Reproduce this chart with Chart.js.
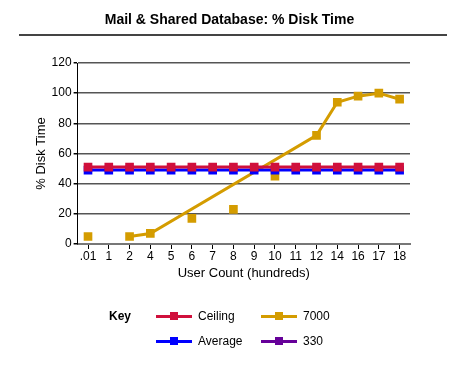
<!DOCTYPE html>
<html>
<head>
<meta charset="utf-8">
<script src="https://cdn.jsdelivr.net/npm/chart.js@4"></script>
<style>
  body { margin: 0; background: #fff; font-family: "Liberation Sans", Arial, sans-serif; }
  #wrap { position: relative; width: 459px; height: 377px; }
  #title { position: absolute; left: 0; top: 11px; width: 459px; text-align: center; font-weight: bold; font-size: 14px; color: #000; }
  #rule { position: absolute; left: 19px; top: 34px; width: 428px; height: 2px; background: #444; }
  #chartBox { position: absolute; left: 0; top: 0; width: 459px; height: 300px; }
  #legend { position: absolute; left: 0; top: 0; width: 459px; height: 377px; pointer-events: none; font-size: 12px; color: #000; }
  .key { position: absolute; font-weight: bold; }
  .item { position: absolute; height: 14px; }
  .sw { position: absolute; left: 0; top: 6px; width: 36px; height: 3px; }
  .mk { position: absolute; left: 14px; top: -3px; width: 8px; height: 8px; }
  .lbl { position: absolute; left: 42px; top: 0; white-space: nowrap; }
</style>
</head>
<body>
<div id="wrap">
  <div id="chartBox"><canvas id="diskChart"></canvas></div>
  <div id="title">Mail &amp; Shared Database: % Disk Time</div>
  <div id="rule"></div>
  <div id="legend"></div>
</div>
<script>
// categories (hundreds of users)
const categories = [".01", "1", "2", "4", "5", "6", "7", "8", "9", "10", "11", "12", "14", "16", "17", "18"];

const ceiling = [51, 51, 51, 51, 51, 51, 51, 51, 51, 51, 51, 51, 51, 51, 51, 51];
const average = [49, 49, 49, 49, 49, 49, 49, 49, 49, 49, 49, 49, 49, 49, 49, 49];
// 7000: points joined by the line
const line7000 = [null, null, 5, 7, null, null, null, null, null, null, null, 72, 94, 98, 100, 96];
// 7000: loose points off the line
const points7000 = [5, null, null, null, null, 17, null, 23, null, 45, null, null, null, null, null, null];
// 330: nothing plotted
const series330 = [];

const yTicks = [0, 20, 40, 60, 80, 100, 120];

const colors = {
  Ceiling: "#d0103c",
  Average: "#0000ff",
  "7000": "#d49c00",
  "330": "#660099"
};

Chart.defaults.font.family = '"Liberation Sans", Arial, sans-serif';
Chart.defaults.font.size = 12;
Chart.defaults.color = "#000";

function lineSet(label, data, color, extra) {
  return Object.assign({
    label: label,
    data: data,
    borderColor: color,
    backgroundColor: color,
    borderWidth: 3,
    pointStyle: "rect",
    pointRadius: 4,
    pointHoverRadius: 4,
    tension: 0
  }, extra || {});
}

new Chart(document.getElementById("diskChart"), {
  type: "line",
  data: {
    labels: categories,
    datasets: [
      lineSet("Ceiling", ceiling, colors.Ceiling),
      lineSet("Average", average, colors.Average),
      lineSet("7000", line7000, colors["7000"], { spanGaps: true }),
      lineSet("7000 pts", points7000, colors["7000"], { showLine: false }),
      lineSet("330", series330, colors["330"])
    ]
  },
  options: {
    responsive: true,
    maintainAspectRatio: false,
    animation: false,
    layout: { padding: { top: 63, left: 34, right: 49, bottom: 19 } },
    plugins: {
      legend: { display: false },
      title: { display: false },
      tooltip: { enabled: false }
    },
    scales: {
      x: {
        offset: true,
        grid: { drawOnChartArea: false, tickLength: 5, color: "#000", lineWidth: 1 },
        border: { color: "#777", width: 2 },
        ticks: { padding: 0, autoSkip: false, maxRotation: 0 },
        title: { display: true, text: "User Count (hundreds)", font: { size: 13 }, padding: { top: 2, bottom: 0 } }
      },
      y: {
        min: 0,
        max: 120,
        afterBuildTicks: axis => { axis.ticks = yTicks.map(v => ({ value: v })); },
        grid: { color: "#555", lineWidth: 1.5, tickLength: 4, tickColor: "#000" },
        border: { color: "#000", width: 1 },
        ticks: { padding: 2 },
        title: { display: true, text: "% Disk Time", font: { size: 13 }, padding: { top: 0, bottom: 0 } }
      }
    }
  }
});

// HTML legend, "Key" then two columns
const legendItems = [
  { label: "Ceiling", x: 156, y: 309 },
  { label: "7000", x: 261, y: 309 },
  { label: "Average", x: 156, y: 334 },
  { label: "330", x: 261, y: 334 }
];
const legend = document.getElementById("legend");
const key = document.createElement("div");
key.className = "key";
key.textContent = "Key";
key.style.left = "109px";
key.style.top = "309px";
legend.appendChild(key);
legendItems.forEach(it => {
  const d = document.createElement("div");
  d.className = "item";
  d.style.left = it.x + "px";
  d.style.top = it.y + "px";
  const c = colors[it.label];
  d.innerHTML = '<div class="sw" style="background:' + c + '"><div class="mk" style="background:' + c + '"></div></div>' +
    '<div class="lbl">' + it.label + '</div>';
  legend.appendChild(d);
});
</script>
</body>
</html>
